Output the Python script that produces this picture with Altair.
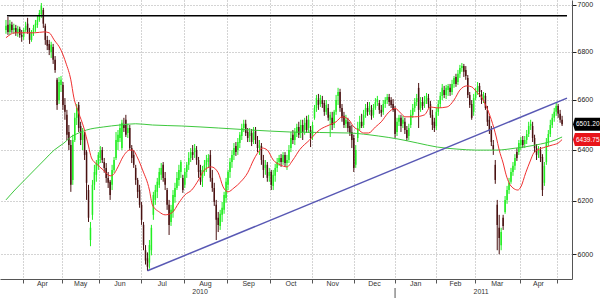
import altair as alt
import pandas as pd

# ---------------- data (daily candles, one per trading day) ----------------
open_px = [6891,6913,6883,6913,6891,6900,6879,6896,6870,6862,
           6891,6918,6883,6849,6879,6900,6913,6934,6960,6977,
           6909,6849,6832,6798,6819,6765,6682,6599,6661,6661,
           6579,6539,6470,6418,6281,6438,6527,6579,6494,6438,
           6459,6390,6242,6052,6147,6262,6301,6340,6367,6398,
           6351,6328,6289,6274,6262,6320,6367,6430,6446,6406,
           6498,6519,6466,6486,6406,6379,6328,6281,6242,6185,
           6109,6014,5984,5968,6014,6147,6204,6235,6262,6301,
           6340,6289,6242,6185,6120,6158,6215,6250,6281,6312,
           6289,6262,6312,6340,6367,6390,6390,6398,6359,6320,
           6289,6312,6340,6351,6379,6289,6250,6185,6136,6105,
           6147,6166,6211,6262,6312,6351,6379,6414,6398,6426,
           6454,6486,6503,6470,6454,6466,6438,6478,6438,6406,
           6414,6359,6328,6340,6297,6312,6258,6297,6328,6351,
           6367,6351,6379,6347,6359,6406,6459,6438,6466,6490,
           6466,6498,6478,6519,6486,6478,6459,6527,6567,6599,
           6583,6599,6587,6551,6567,6519,6527,6498,6551,6616,
           6632,6567,6535,6503,6511,6494,6470,6446,6340,6446,
           6486,6511,6498,6539,6567,6551,6559,6539,6567,6591,
           6587,6559,6551,6583,6599,6611,6599,6583,6567,6470,
           6511,6527,6503,6511,6478,6454,6498,6539,6567,6591,
           6649,6567,6591,6583,6599,6607,6583,6539,6511,6494,
           6551,6583,6616,6640,6620,6640,6649,6632,6665,6694,
           6673,6707,6731,6739,6723,6690,6620,6583,6551,6607,
           6632,6657,6624,6607,6616,6559,6519,6478,6418,6340,
           6185,6098,6033,6136,6158,6204,6242,6274,6312,6336,
           6390,6390,6418,6438,6422,6438,6462,6494,6494,6446,
           6406,6386,6398,6371,6270,6351,6430,6462,6498,6527,
           6551,6575,6543,6519]

high_px = [6934,6947,6934,6926,6918,6913,6909,6905,6891,6900,
           6926,6943,6900,6891,6913,6934,6952,6977,7007,6986,
           6918,6866,6849,6841,6832,6781,6690,6694,6698,6673,
           6607,6559,6498,6438,6459,6547,6583,6591,6511,6486,
           6470,6398,6262,6120,6281,6340,6359,6390,6414,6410,
           6367,6347,6312,6281,6340,6371,6470,6478,6503,6519,
           6527,6539,6503,6498,6418,6398,6340,6289,6262,6196,
           6120,6033,6006,6052,6109,6235,6262,6289,6328,6347,
           6351,6312,6250,6204,6185,6242,6270,6312,6340,6359,
           6301,6328,6351,6390,6406,6418,6422,6414,6371,6340,
           6336,6359,6379,6382,6398,6320,6270,6204,6158,6166,
           6196,6235,6289,6320,6367,6398,6426,6430,6446,6470,
           6503,6519,6519,6486,6486,6482,6490,6490,6454,6438,
           6426,6379,6359,6351,6328,6320,6320,6344,6367,6379,
           6382,6390,6390,6379,6418,6470,6478,6486,6503,6511,
           6519,6519,6527,6535,6539,6494,6511,6579,6620,6624,
           6620,6616,6599,6599,6583,6551,6551,6559,6620,6649,
           6645,6583,6551,6539,6527,6511,6498,6459,6418,6511,
           6535,6543,6559,6583,6591,6591,6579,6583,6607,6616,
           6599,6579,6599,6611,6624,6624,6611,6603,6575,6527,
           6539,6539,6535,6527,6494,6503,6559,6583,6607,6624,
           6669,6611,6611,6616,6628,6624,6595,6559,6527,6567,
           6599,6632,6665,6657,6661,6665,6665,6682,6698,6707,
           6723,6744,6752,6748,6739,6702,6632,6599,6624,6649,
           6673,6669,6640,6632,6628,6575,6535,6494,6438,6359,
           6204,6147,6098,6147,6219,6258,6289,6328,6351,6382,
           6406,6438,6450,6454,6454,6478,6511,6519,6511,6459,
           6422,6414,6410,6382,6351,6446,6478,6519,6543,6567,
           6587,6583,6559,6535]

low_px = [6875,6870,6870,6879,6875,6866,6862,6858,6841,6849,
          6883,6875,6832,6841,6866,6883,6900,6926,6943,6900,
          6828,6806,6785,6773,6748,6711,6559,6583,6632,6559,
          6519,6438,6398,6235,6262,6430,6498,6470,6418,6398,
          6359,6204,6120,6029,6128,6242,6274,6320,6347,6347,
          6309,6270,6250,6204,6242,6309,6359,6398,6430,6398,
          6470,6450,6446,6398,6347,6328,6262,6211,6174,6109,
          6014,5961,5938,5946,5995,6128,6185,6211,6250,6281,
          6274,6242,6166,6071,6105,6136,6193,6242,6258,6289,
          6231,6250,6289,6320,6351,6359,6367,6340,6289,6262,
          6254,6297,6312,6328,6274,6235,6181,6052,6082,6090,
          6120,6151,6193,6242,6289,6328,6359,6375,6379,6406,
          6438,6470,6454,6430,6430,6414,6422,6422,6390,6379,
          6340,6289,6301,6274,6274,6242,6242,6274,6312,6336,
          6332,6340,6332,6320,6347,6390,6422,6418,6450,6446,
          6446,6438,6459,6466,6466,6410,6438,6519,6551,6559,
          6571,6567,6535,6539,6515,6450,6478,6486,6539,6579,
          6551,6511,6486,6486,6470,6454,6406,6312,6328,6430,
          6478,6486,6486,6527,6535,6539,6519,6527,6559,6575,
          6543,6531,6539,6567,6583,6575,6567,6551,6446,6454,
          6494,6470,6486,6462,6434,6438,6486,6527,6551,6575,
          6486,6551,6559,6567,6583,6567,6527,6478,6470,6478,
          6535,6567,6599,6607,6603,6616,6616,6620,6649,6653,
          6661,6690,6715,6694,6682,6607,6567,6519,6535,6599,
          6620,6611,6583,6587,6559,6494,6462,6414,6379,6266,
          6014,5999,6014,6090,6151,6189,6227,6266,6297,6320,
          6355,6379,6398,6406,6406,6422,6450,6478,6430,6390,
          6359,6367,6351,6219,6258,6340,6414,6450,6486,6511,
          6535,6527,6507,6494]

close_px = [6909,6883,6918,6891,6900,6879,6896,6870,6862,6891,
            6909,6883,6849,6879,6900,6918,6934,6964,6994,6918,
            6849,6824,6806,6828,6765,6723,6579,6673,6682,6579,
            6551,6459,6418,6262,6438,6527,6567,6486,6438,6470,
            6379,6270,6136,6098,6262,6312,6347,6379,6398,6359,
            6328,6289,6270,6223,6320,6359,6438,6459,6486,6507,
            6486,6459,6486,6406,6367,6340,6281,6235,6185,6128,
            6033,5976,5953,6033,6098,6223,6242,6274,6312,6328,
            6289,6262,6185,6109,6166,6223,6250,6289,6320,6351,
            6242,6312,6340,6367,6390,6379,6406,6359,6312,6274,
            6320,6340,6359,6367,6289,6250,6196,6128,6109,6151,
            6174,6223,6274,6312,6351,6379,6406,6390,6430,6459,
            6486,6503,6466,6446,6474,6430,6470,6438,6406,6418,
            6359,6320,6340,6289,6312,6262,6301,6328,6351,6367,
            6351,6379,6347,6359,6398,6446,6438,6470,6490,6459,
            6498,6470,6507,6478,6519,6446,6498,6567,6607,6579,
            6607,6583,6551,6579,6527,6539,6498,6551,6599,6632,
            6567,6527,6498,6519,6486,6466,6438,6328,6398,6486,
            6511,6494,6539,6567,6551,6575,6535,6567,6591,6603,
            6559,6547,6583,6599,6611,6591,6579,6559,6462,6511,
            6527,6494,6519,6478,6446,6486,6539,6567,6591,6607,
            6559,6591,6575,6599,6616,6583,6539,6498,6486,6551,
            6583,6616,6649,6620,6649,6657,6632,6665,6690,6665,
            6707,6731,6739,6715,6698,6620,6579,6527,6607,6632,
            6657,6632,6599,6620,6567,6511,6478,6430,6398,6281,
            6109,6060,6082,6105,6204,6242,6270,6312,6336,6367,
            6367,6426,6438,6418,6438,6462,6494,6503,6446,6406,
            6379,6398,6367,6242,6336,6430,6462,6498,6527,6551,
            6575,6543,6519,6501.2]

# short moving average (red) and long moving average (green): (day, value)
red_ma = [(0,6858),(4.5,6879),(14.5,6879),(19.5,6883),(22,6879),(24.5,6849),(28,6806),
          (30.5,6752),(33,6682),(34.5,6611),(37,6547),(39.5,6490),(42,6414),(43.5,6367),
          (46,6344),(49.5,6320),(53,6297),(54.5,6301),(57,6332),(59.5,6371),(63,6398),
          (64.5,6398),(67,6367),(69.5,6320),(73,6242),(74.5,6185),(78,6158),(81,6147),
          (84.5,6155),(88,6193),(91,6223),(94.5,6242),(98,6281),(101,6320),(104.5,6332),
          (108,6309),(110.5,6254),(113,6235),(116,6250),(119.5,6274),(123,6309),(126,6359),
          (128,6386),(130.5,6406),(133,6398),(136,6359),(139.5,6340),(143,6332),(146,6359),
          (149.5,6400),(154.5,6438),(159.5,6478),(164.5,6498),(168,6511),(171,6531),
          (174.5,6519),(177,6490),(179.5,6478),(182,6466),(184.5,6466),(188,6490),(191,6511),
          (194.5,6547),(198,6565),(201,6545),(203,6531),(208,6531),(213,6539),(216,6571),
          (219.5,6567),(224.5,6571),(228,6599),(231,6640),(234.5,6657),(237,6653),(239.5,6632),
          (242,6611),(244.5,6571),(247,6519),(249.5,6450),(251,6398),(253,6347),(254.5,6301),
          (256,6270),(258,6250),(260.5,6242),(262,6254),(264.5,6309),(267,6359),(268.5,6386),
          (270.5,6398),(274.5,6410),(278,6418),(281,6426),(283,6439.75)]

green_ma = [(0,6204),(4.5,6242),(9.5,6281),(14.5,6320),(19.5,6359),(24.5,6398),(29.5,6426),
            (33,6450),(37,6466),(41,6478),(49.5,6490),(58,6498),(66,6503),(74.5,6498),
            (89.5,6494),(108,6486),(124.5,6478),(144.5,6470),(174.5,6466),(189.5,6454),
            (199.5,6442),(209.5,6426),(219.5,6410),(229.5,6402),(239.5,6398),(249.5,6398),
            (259.5,6406),(269.5,6418),(279.5,6438),(283,6450)]

trend_day = [72, 285.5]
trend_val = [5938, 6607]
resist_day = [0.5, 285.5]
resist_val = [6952, 6952]

month_bounds = [8.5, 28.5, 47.5, 68.5, 90.5, 112.5, 134.5, 155.5, 177, 198, 219, 238.5, 261.5, 280.5]
month_names = ["Apr", "May", "Jun", "Jul", "Aug", "Sep", "Oct", "Nov", "Dec", "Jan", "Feb", "Mar", "Apr"]
year_names = ["2010", "2011"]
year_break = 198
y_ticks = [6000, 6200, 6400, 6600, 6800, 7000]
last_vals = [6501.20, 6439.75]
last_labels = ["6501.20", "6439.75"]
last_colors = ["#000000", "#e8141a"]

X_DOMAIN = [-0.5, 285.5]
Y_DOMAIN = [5908, 7020]

# ---------------- chart ----------------
FONT = "Liberation Sans"
candles = pd.DataFrame({"day": list(range(len(close_px))), "open": open_px, "high": high_px,
                        "low": low_px, "close": close_px})
candles["dir"] = ["up" if c >= o else "down" for o, c in zip(open_px, close_px)]

xscale = alt.Scale(domain=X_DOMAIN, nice=False, zero=False)
yscale = alt.Scale(type="log", domain=Y_DOMAIN, nice=False, zero=False)
x_axis = alt.Axis(orient="bottom", values=month_bounds, grid=True, gridDash=[1, 2],
                  gridColor="#a8a8a8", labels=False, ticks=True, tickSize=4,
                  tickColor="#555", domainColor="#555", title=None)
y_axis = alt.Axis(orient="right", values=y_ticks, format="d", grid=True, gridDash=[1, 2],
                  gridColor="#a8a8a8", tickSize=4, tickColor="#222", domainColor="#555",
                  labelFont=FONT, labelFontSize=7, labelColor="#222", labelPadding=1, title=None)


def X(f):
    return alt.X(f, type="quantitative", scale=xscale, axis=x_axis)


def Y(f):
    return alt.Y(f, type="quantitative", scale=yscale, axis=y_axis)


col = alt.Color("dir:N", scale=alt.Scale(domain=["up", "down"], range=["#22ee22", "#4a1212"]),
                legend=None)

wicks = alt.Chart(candles).mark_rule(strokeWidth=1).encode(x=X("day"), y=Y("low"), y2="high", color=col)
bodies = alt.Chart(candles).mark_bar(size=1.5).encode(x=X("day"), y=Y("open"), y2="close", color=col)

red_df = pd.DataFrame(red_ma, columns=["day", "val"])
green_df = pd.DataFrame(green_ma, columns=["day", "val"])
green_line = alt.Chart(green_df).mark_line(color="#3ec83e", strokeWidth=1, interpolate="monotone").encode(
    x=X("day"), y=Y("val"))
red_line = alt.Chart(red_df).mark_line(color="#f03030", strokeWidth=1, interpolate="monotone").encode(
    x=X("day"), y=Y("val"))

trend = alt.Chart(pd.DataFrame({"day": trend_day, "val": trend_val})).mark_line(
    color="#5858b4", strokeWidth=1.5).encode(x=X("day"), y=Y("val"))
resist = alt.Chart(pd.DataFrame({"day": resist_day, "val": resist_val})).mark_line(
    color="#000000", strokeWidth=1.5).encode(x=X("day"), y=Y("val"))

mids = [(a + b) / 2 for a, b in zip(month_bounds[:-1], month_bounds[1:])]
months = alt.Chart(pd.DataFrame({"pos": mids, "name": month_names})).mark_text(
    font=FONT, fontSize=7, color="#333", baseline="middle").encode(x=X("pos"), y=alt.value(284), text="name")
year_pos = [(X_DOMAIN[0] + year_break) / 2, (year_break + X_DOMAIN[1]) / 2]
years = alt.Chart(pd.DataFrame({"pos": year_pos, "name": year_names})).mark_text(
    font=FONT, fontSize=7, color="#333", baseline="middle").encode(x=X("pos"), y=alt.value(292), text="name")
year_tick = alt.Chart(pd.DataFrame({"pos": [year_break]})).mark_rule(color="#555").encode(
    x=X("pos"), y=alt.value(288), y2=alt.value(298))

tags_df = pd.DataFrame({"val": last_vals, "label": last_labels, "fill": last_colors})
tag_shape = "M-1,0 L-0.86,-0.48 L1,-0.48 L1,0.48 L-0.86,0.48 Z"
tags = alt.Chart(tags_df).mark_point(shape=tag_shape, filled=True, size=729, opacity=1, strokeWidth=0).encode(
    x=alt.value(586.5), y=Y("val"), color=alt.Color("fill:N", scale=None))
tag_text = alt.Chart(tags_df).mark_text(font=FONT, fontSize=6.5, color="white", align="left",
                                        baseline="middle").encode(x=alt.value(576), y=Y("val"), text="label")

chart = alt.layer(wicks, bodies, green_line, red_line, resist, trend, months, years, year_tick,
                  tags, tag_text).properties(
    width=572, height=279,
    padding={"left": 0, "top": 0, "right": 28, "bottom": 21},
    autosize=alt.AutoSizeParams(type="none"),
).configure_view(stroke=None)

chart.save("out.html", embed_options={"renderer": "svg", "actions": False})
